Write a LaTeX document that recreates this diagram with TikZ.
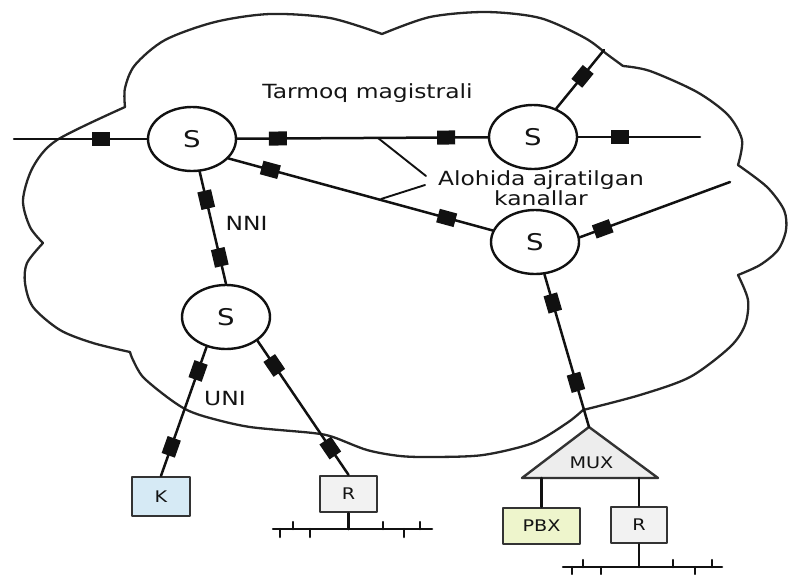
\documentclass[tikz,border=0pt]{standalone}
\usepackage{fontspec}
\setmainfont{DejaVu Sans}[FakeStretch=1.2]
\usetikzlibrary{shapes.geometric,calc}
\definecolor{ink}{HTML}{111111}
\definecolor{cloudc}{HTML}{262626}
\definecolor{kfill}{HTML}{D6EAF5}
\definecolor{rfill}{HTML}{F2F2F2}
\definecolor{pbxfill}{HTML}{EEF5CC}
\definecolor{muxfill}{HTML}{EDEDED}
\definecolor{boxline}{HTML}{333333}
\definecolor{txt}{HTML}{141414}
\begin{document}
\begin{tikzpicture}[x=1pt,y=-1pt,
  line width=2.5pt, line cap=round, line join=round,
  sw/.style={ellipse, draw=ink, fill=white, line width=2.4pt, minimum width=88pt, minimum height=64pt, inner sep=0pt, font=\fontsize{23}{25}\selectfont, text=txt},
  sq/.style={rectangle, fill=ink, minimum width=18pt, minimum height=14pt, inner sep=0pt, sloped},
  box/.style={rectangle, draw=boxline, line width=2.4pt, inner sep=0pt, font=\fontsize{16}{18}\selectfont, text=txt},
  lbl/.style={font=\fontsize{19.5}{22}\selectfont, text=txt, inner sep=0pt, anchor=base},
  link/.style={draw=ink, line width=2.5pt},
  cloudline/.style={draw=cloudc, line width=2.3pt},
  bracket/.style={draw=ink, line width=1.9pt},
]
\useasboundingbox (0,0) rectangle (789,574);

% cloud
\draw[cloudline] plot[smooth] coordinates {(125,107) (125,88) (135,65) (165,40) (215,22) (270,14) (330,18) (382,34)};
\draw[cloudline] plot[smooth] coordinates {(382,34) (430,17) (486,12) (540,18) (585,38) (608,55) (623,66)};
\draw[cloudline] plot[smooth] coordinates {(623,66) (650,71) (697,92) (728,115) (742,140) (738,165)};
\draw[cloudline] plot[smooth] coordinates {(738,165) (767,187) (784,210) (786,230) (778,250) (760,265) (738,275)};
\draw[cloudline] plot[smooth] coordinates {(738,275) (748,300) (745,325) (730,347) (690,377) (640,395) (583,410)};
\draw[cloudline] plot[smooth] coordinates {(583,410) (567,423) (533,443) (483,455) (433,457) (400,456) (367,450) (333,437) (313,433) (250,427) (210,418) (187,410) (167,397) (143,377) (133,360) (130,352)};
\draw[cloudline] plot[smooth] coordinates {(130,352) (93,343) (60,330) (33,307) (25,283) (27,263) (43,243)};
\draw[cloudline] plot[smooth] coordinates {(43,243) (30,227) (23,200) (33,167) (57,140) (125,107)};

% switches
\node[sw] (S1) at (192,139) {S};
\node[sw] (S2) at (533,137) {S};
\node[sw] (S3) at (535,242) {S};
\node[sw] (S4) at (226,317) {S};

% end devices
\node[box, fill=kfill, minimum width=58pt, minimum height=39pt] (K) at (161,496.5) {K};
\node[box, fill=rfill, minimum width=57pt, minimum height=36pt] (R1) at (348.5,494) {R};
\node[box, fill=pbxfill, minimum width=77pt, minimum height=36pt] (PBX) at (541.5,526) {PBX};
\node[box, fill=rfill, minimum width=56pt, minimum height=36pt] (R2) at (639,525) {R};

% MUX
\coordinate (muxtop) at (589,427);
\coordinate (muxl) at (522,478);
\coordinate (muxr) at (658,478);
\draw[draw=boxline, fill=muxfill, line width=2.4pt] (muxtop) -- (muxr) -- (muxl) -- cycle;
\node[lbl, font=\fontsize{16}{18}\selectfont] (mux) at (591.5,468) {MUX};

% free ends
\coordinate (w) at (14,139);
\coordinate (e2) at (700,137);
\coordinate (e3) at (604,50);
\coordinate (e4) at (730,182);

% links
\draw[link] (w) -- node[sq,pos=0.657] (q1) {} (S1);
\draw[link] (S1) -- node[sq,pos=0.162] (q2) {} node[sq,pos=0.834] (q3) {} (S2);
\draw[link] (S2) -- node[sq,pos=0.34] (q4) {} (e2);
\draw[link] (S2) -- node[sq,pos=0.55] (q5) {} (e3);
\draw[link] (S1.-28) -- node[sq,pos=0.158] (q6) {} node[sq,pos=0.826] (q7) {} (S3);
\draw[link] (S3.6) -- node[sq,pos=0.153] (q8) {} (e4);
\draw[link] (S1) -- node[sq,pos=0.249] (q9) {} node[sq,pos=0.764] (q10) {} (S4.north);
\draw[link] (S4.-123) -- node[sq,pos=0.186] (q11) {} node[sq,pos=0.775] (q12) {} (K.north);
\draw[link] (S4.-37) -- node[sq,pos=0.184] (q13) {} node[sq,pos=0.80] (q14) {} (R1.north);
\draw[link] (S3) -- node[sq,pos=0.187] (q15) {} node[sq,pos=0.707] (q16) {} (muxtop);

\draw[link] (PBX.north) -- (PBX.north |- muxl);
\draw[link] (R2.north) -- (R2.north |- muxl);

% bracket lines
\coordinate (k1) at (378,138);
\coordinate (k1e) at (426,176);
\coordinate (k2) at (381,199);
\coordinate (k2e) at (425,185);
\draw[bracket] (k1) -- (k1e);
\draw[bracket] (k2) -- (k2e);

% buses
\coordinate (b1l) at (273,529);
\coordinate (b1r) at (432,529);
\draw[link] (b1l) -- (b1r);
\foreach \x/\d in {280/8, 293/-7, 310/8, 383/-7, 404/8, 420/-7}
  \draw[link] (\x,529) -- ++(0,\d);
\draw[link] (R1.south) -- (R1.south |- b1l);

\coordinate (b2l) at (563,567);
\coordinate (b2r) at (722,567);
\draw[link] (b2l) -- (b2r);
\foreach \x/\d in {572/7, 583/-7, 601/7, 673/-7, 695/7, 712/-7}
  \draw[link] (\x,567) -- ++(0,\d);
\draw[link] (R2.south) -- (R2.south |- b2l);

% labels
\node[lbl] (tm) at (367.5,98) {Tarmoq magistrali};
\node[font=\fontsize{19.5}{16}\selectfont, text=txt, inner sep=0pt, align=center] (al) at (541,188) {Alohida ajratilgan\\kanallar};
\node[lbl] (nni) at (246.5,230) {NNI};
\node[lbl] (uni) at (225,405) {UNI};
\end{tikzpicture}
\end{document}
